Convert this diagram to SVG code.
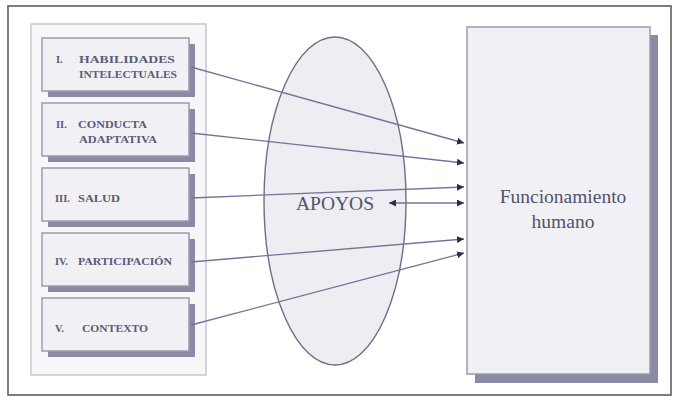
<svg xmlns="http://www.w3.org/2000/svg" width="674" height="400" viewBox="0 0 674 400">
  <defs>
    <marker id="ah" viewBox="0 0 8 8" refX="8" refY="4" markerWidth="7" markerHeight="7" markerUnits="userSpaceOnUse" orient="auto-start-reverse">
      <path d="M0,0 L8,4 L0,8 z" fill="#2c2c50"/>
    </marker>
  </defs>
  <style>
    .frame { fill: #ffffff; stroke: #5e5e5e; stroke-width: 1.6; }
    .panel { fill: #f7f7f9; stroke: #c6c6d0; stroke-width: 1.5; }
    .shadow { fill: #8a8aa4; }
    .box { fill: #f1f1f5; stroke: #9a9ab0; stroke-width: 1.5; }
    text { font-family: 'Liberation Serif', 'DejaVu Serif', serif; }
    .lbl { font-weight: bold; font-size: 10.5px; fill: #5a5a7a; }
    .big { font-size: 19.5px; fill: #52526c; }
    .conn { stroke: #74749a; stroke-width: 1.3; fill: none; marker-end: url(#ah); }
    .ell { fill: #ededf2; stroke: #6e6e88; stroke-width: 1.4; }
  </style>
  <rect class="frame" x="8" y="6" width="663" height="389"/>
  <g id="panel">
    <rect class="panel" x="31" y="24" width="175" height="351"/>
  </g>
  <g id="n1">
    <rect class="shadow" x="48" y="44" width="147" height="53"/>
    <rect class="box" x="42" y="38" width="147" height="53"/>
    <text class="lbl" x="56" y="63" font-family="Liberation Serif, serif">I.</text>
    <text class="lbl" x="79" y="63" textLength="96" lengthAdjust="spacingAndGlyphs" font-family="Liberation Serif, serif">HABILIDADES</text>
    <text class="lbl" x="79" y="78" textLength="98" lengthAdjust="spacingAndGlyphs" font-family="Liberation Serif, serif">INTELECTUALES</text>
  </g>
  <g id="n2">
    <rect class="shadow" x="48" y="109" width="147" height="53"/>
    <rect class="box" x="42" y="103" width="147" height="53"/>
    <text class="lbl" x="56" y="128" font-family="Liberation Serif, serif">II.</text>
    <text class="lbl" x="78" y="128" textLength="69" lengthAdjust="spacingAndGlyphs" font-family="Liberation Serif, serif">CONDUCTA</text>
    <text class="lbl" x="79" y="143" textLength="78" lengthAdjust="spacingAndGlyphs" font-family="Liberation Serif, serif">ADAPTATIVA</text>
  </g>
  <g id="n3">
    <rect class="shadow" x="48" y="174" width="147" height="53"/>
    <rect class="box" x="42" y="168" width="147" height="53"/>
    <text class="lbl" x="55" y="202" font-family="Liberation Serif, serif">III.</text>
    <text class="lbl" x="78" y="202" textLength="42" lengthAdjust="spacingAndGlyphs" font-family="Liberation Serif, serif">SALUD</text>
  </g>
  <g id="n4">
    <rect class="shadow" x="48" y="239" width="147" height="53"/>
    <rect class="box" x="42" y="233" width="147" height="53"/>
    <text class="lbl" x="55" y="265" font-family="Liberation Serif, serif">IV.</text>
    <text class="lbl" x="78" y="265" textLength="94" lengthAdjust="spacingAndGlyphs" font-family="Liberation Serif, serif">PARTICIPACIÓN</text>
  </g>
  <g id="n5">
    <rect class="shadow" x="48" y="304" width="147" height="53"/>
    <rect class="box" x="42" y="298" width="147" height="53"/>
    <text class="lbl" x="55" y="332" font-family="Liberation Serif, serif">V.</text>
    <text class="lbl" x="82" y="332" textLength="66" lengthAdjust="spacingAndGlyphs" font-family="Liberation Serif, serif">CONTEXTO</text>
  </g>
  <g id="apoyos">
    <ellipse class="ell" cx="335" cy="201" rx="71" ry="164"/>
    <text class="big" x="335" y="210" text-anchor="middle" font-family="Liberation Serif, serif">APOYOS</text>
  </g>
  <g id="funcionamiento">
    <rect class="shadow" x="475" y="35" width="183" height="348"/>
    <rect class="box" x="467" y="27" width="183" height="347"/>
    <text class="big" x="563" y="203" text-anchor="middle" font-family="Liberation Serif, serif">Funcionamiento</text>
    <text class="big" x="563" y="228" text-anchor="middle" font-family="Liberation Serif, serif">humano</text>
  </g>
  <g id="connectors">
    <line class="conn" x1="191" y1="67" x2="464" y2="143"/>
    <line class="conn" x1="191" y1="133" x2="464" y2="163"/>
    <line class="conn" x1="191" y1="198" x2="464" y2="187"/>
    <line class="conn" x1="191" y1="262" x2="464" y2="239"/>
    <line class="conn" x1="191" y1="325" x2="464" y2="253"/>
    <line class="conn" x1="389" y1="203" x2="464" y2="203" marker-start="url(#ah)"/>
  </g>
</svg>
